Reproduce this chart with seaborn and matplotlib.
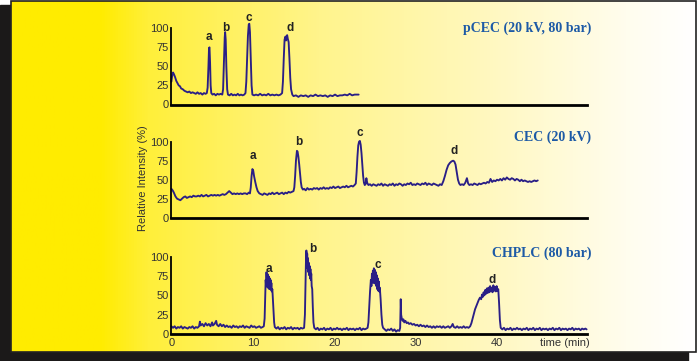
"""
Chromatogram comparison: pCEC vs CEC vs CHPLC
three stacked traces on a yellow->white panel with drop shadow
"""

import numpy as np
import matplotlib
matplotlib.use('Agg')
import matplotlib.pyplot as plt
from matplotlib.patches import Rectangle
from matplotlib.colors import LinearSegmentedColormap
import seaborn as sns

sns.set_style('white')
plt.rcParams['font.family'] = ['Liberation Sans', 'DejaVu Sans']

# ============================================================================
# DATA (time in min, relative intensity in %)
# ============================================================================
pcec = [
    (0.0, 30), (0.1, 38), (0.2, 42), (0.3, 40), (0.45, 36), (0.6, 31), (0.75, 28),
    (0.9, 25), (1.05, 24), (1.2, 21), (1.4, 20), (1.6, 18), (1.8, 17), (2.0, 16),
    (2.2, 17), (2.4, 15), (2.6, 16), (2.8, 15), (3.0, 14), (3.2, 16), (3.4, 14),
    (3.6, 15), (3.8, 13), (4.0, 15), (4.2, 14), (4.35, 15), (4.45, 22), (4.55, 50),
    (4.62, 74), (4.68, 75), (4.75, 55), (4.82, 25), (4.9, 15), (5.05, 13), (5.25, 14),
    (5.45, 12), (5.65, 14), (5.85, 13), (6.05, 14), (6.25, 13), (6.35, 20), (6.45, 55),
    (6.55, 88), (6.6, 95), (6.67, 85), (6.75, 50), (6.85, 20), (6.95, 13), (7.15, 12),
    (7.35, 14), (7.55, 12), (7.75, 13), (7.95, 12), (8.15, 14), (8.35, 12), (8.55, 13),
    (8.75, 12), (8.95, 13), (9.1, 15), (9.2, 30), (9.3, 60), (9.4, 90), (9.5, 105),
    (9.57, 106), (9.65, 95), (9.75, 60), (9.85, 25), (9.95, 13), (10.15, 12), (10.4, 13),
    (10.65, 12), (10.9, 14), (11.15, 12), (11.4, 13), (11.65, 12), (11.9, 14), (12.15, 12),
    (12.4, 13), (12.65, 12), (12.9, 13), (13.15, 12), (13.4, 13), (13.6, 15), (13.7, 30),
    (13.8, 60), (13.9, 85), (14.0, 89), (14.08, 84), (14.15, 90), (14.22, 91), (14.3, 86),
    (14.4, 82), (14.5, 60), (14.6, 35), (14.7, 20), (14.85, 13), (15.0, 11), (15.3, 12),
    (15.6, 10), (15.9, 12), (16.2, 11), (16.5, 12), (16.8, 10), (17.1, 12), (17.4, 11),
    (17.7, 13), (18.0, 11), (18.3, 12), (18.6, 11), (18.9, 12), (19.2, 10), (19.5, 12),
    (19.8, 11), (20.1, 13), (20.4, 11), (20.7, 12), (21.0, 12), (21.3, 13), (21.6, 12),
    (21.9, 14), (22.2, 12), (22.5, 13), (22.8, 13), (23.0, 13),
]

cec = [
    (0.0, 38), (0.15, 36), (0.3, 33), (0.5, 28), (0.7, 25), (0.9, 24), (1.1, 23),
    (1.3, 25), (1.5, 27), (1.7, 28), (1.9, 26), (2.1, 27), (2.3, 28), (2.5, 27),
    (2.7, 29), (2.9, 28), (3.1, 28), (3.3, 29), (3.5, 28), (3.7, 30), (3.9, 28),
    (4.1, 29), (4.3, 30), (4.5, 28), (4.7, 29), (4.9, 30), (5.1, 29), (5.3, 30),
    (5.5, 29), (5.7, 30), (5.9, 29), (6.1, 30), (6.3, 31), (6.5, 30), (6.7, 31),
    (6.9, 33), (7.1, 35), (7.3, 33), (7.5, 31), (7.7, 32), (7.9, 31), (8.1, 32),
    (8.3, 31), (8.5, 32), (8.7, 31), (8.9, 32), (9.1, 32), (9.3, 31), (9.5, 33),
    (9.65, 32), (9.75, 40), (9.85, 55), (9.95, 64), (10.05, 62), (10.15, 55), (10.3, 47),
    (10.45, 40), (10.6, 35), (10.8, 32), (11.0, 31), (11.2, 30), (11.4, 32), (11.6, 31),
    (11.8, 30), (12.0, 32), (12.2, 31), (12.4, 33), (12.6, 31), (12.8, 32), (13.0, 33),
    (13.2, 31), (13.4, 32), (13.6, 33), (13.8, 31), (14.0, 33), (14.2, 32), (14.4, 34),
    (14.6, 33), (14.8, 34), (15.0, 35), (15.1, 40), (15.2, 55), (15.3, 75), (15.42, 88),
    (15.5, 87), (15.6, 80), (15.7, 70), (15.8, 58), (15.9, 47), (16.0, 40), (16.15, 37),
    (16.3, 38), (16.5, 36), (16.7, 39), (16.9, 37), (17.1, 38), (17.3, 37), (17.5, 39),
    (17.7, 38), (17.9, 39), (18.1, 37), (18.3, 39), (18.5, 38), (18.7, 40), (18.9, 38),
    (19.1, 39), (19.3, 38), (19.5, 40), (19.7, 39), (19.9, 41), (20.1, 39), (20.3, 40),
    (20.5, 41), (20.7, 39), (20.9, 40), (21.1, 41), (21.3, 40), (21.5, 42), (21.7, 40),
    (21.9, 41), (22.1, 42), (22.3, 41), (22.5, 43), (22.65, 45), (22.75, 60), (22.85, 80),
    (22.95, 95), (23.05, 100), (23.15, 101), (23.25, 96), (23.35, 85), (23.45, 70),
    (23.55, 55), (23.65, 46), (23.75, 43), (23.85, 44), (23.95, 52), (24.05, 46),
    (24.2, 43), (24.4, 44), (24.6, 42), (24.8, 44), (25.0, 43), (25.2, 42), (25.4, 44),
    (25.6, 43), (25.8, 45), (26.0, 42), (26.2, 44), (26.4, 43), (26.6, 42), (26.8, 44),
    (27.0, 43), (27.2, 45), (27.4, 42), (27.6, 44), (27.8, 43), (28.0, 45), (28.2, 44),
    (28.4, 42), (28.6, 44), (28.8, 43), (29.0, 45), (29.2, 44), (29.4, 46), (29.6, 43),
    (29.8, 44), (30.0, 43), (30.2, 45), (30.4, 44), (30.6, 43), (30.8, 45), (31.0, 44),
    (31.2, 46), (31.4, 43), (31.6, 45), (31.8, 44), (32.0, 43), (32.2, 45), (32.4, 44),
    (32.6, 43), (32.8, 42), (33.0, 44), (33.2, 43), (33.4, 48), (33.6, 55), (33.8, 63),
    (34.0, 69), (34.2, 72), (34.4, 74), (34.6, 75), (34.75, 74), (34.9, 70), (35.05, 60),
    (35.2, 50), (35.35, 45), (35.5, 43), (35.7, 44), (35.9, 43), (36.1, 46), (36.3, 52),
    (36.45, 45), (36.6, 43), (36.8, 44), (37.0, 43), (37.2, 45), (37.4, 44), (37.6, 43),
    (37.8, 45), (38.0, 44), (38.2, 45), (38.4, 46), (38.6, 45), (38.8, 47), (39.0, 46),
    (39.2, 51), (39.4, 47), (39.6, 49), (39.8, 48), (40.0, 50), (40.2, 49), (40.4, 51),
    (40.6, 49), (40.8, 52), (41.0, 50), (41.2, 53), (41.4, 51), (41.6, 50), (41.8, 52),
    (42.0, 51), (42.2, 49), (42.4, 51), (42.6, 50), (42.8, 48), (43.0, 50), (43.2, 48),
    (43.4, 49), (43.6, 48), (43.8, 47), (44.0, 48), (44.2, 47), (44.4, 48), (44.6, 49),
    (44.8, 48), (45.0, 49),
]

chplc = [
    (0.0, 10), (0.2, 8), (0.4, 10), (0.6, 7), (0.8, 9), (1.0, 8), (1.2, 10), (1.4, 7),
    (1.6, 9), (1.8, 8), (2.0, 7), (2.2, 9), (2.4, 8), (2.6, 10), (2.8, 7), (3.0, 9),
    (3.2, 8), (3.4, 10), (3.5, 16), (3.6, 11), (3.8, 13), (4.0, 10), (4.2, 14), (4.4, 11),
    (4.6, 13), (4.8, 10), (5.0, 15), (5.1, 11), (5.3, 13), (5.5, 17), (5.6, 12), (5.8, 10),
    (6.0, 13), (6.2, 10), (6.4, 12), (6.6, 9), (6.8, 11), (7.0, 9), (7.2, 10), (7.4, 8),
    (7.6, 11), (7.8, 9), (8.0, 10), (8.2, 8), (8.4, 10), (8.6, 9), (8.8, 11), (9.0, 8),
    (9.2, 10), (9.4, 9), (9.6, 8), (9.8, 11), (10.0, 9), (10.2, 10), (10.4, 8), (10.6, 9),
    (10.8, 10), (11.0, 8), (11.2, 9), (11.35, 10),
    (11.45, 20), (11.52, 45), (11.58, 70), (11.63, 62), (11.68, 80), (11.73, 66),
    (11.78, 78), (11.83, 60), (11.88, 76), (11.93, 63), (11.98, 74), (12.03, 58),
    (12.08, 72), (12.13, 60), (12.18, 70), (12.23, 57), (12.28, 66), (12.33, 55),
    (12.4, 58), (12.47, 45), (12.54, 30), (12.62, 15), (12.7, 9),
    (12.9, 7), (13.1, 9), (13.3, 6), (13.5, 8), (13.7, 7), (13.9, 9), (14.1, 6), (14.3, 8),
    (14.5, 7), (14.7, 9), (14.9, 6), (15.1, 8), (15.3, 7), (15.5, 8), (15.7, 6), (15.9, 8),
    (16.1, 7), (16.3, 8),
    (16.4, 25), (16.47, 60), (16.53, 95), (16.58, 108), (16.63, 90), (16.68, 104),
    (16.73, 85), (16.78, 98), (16.83, 80), (16.88, 92), (16.93, 76), (16.98, 88),
    (17.03, 72), (17.08, 84), (17.13, 70), (17.18, 78), (17.23, 62), (17.3, 58),
    (17.37, 35), (17.45, 15), (17.55, 8),
    (17.75, 6), (17.95, 8), (18.15, 5), (18.35, 7), (18.55, 6), (18.75, 8), (18.95, 5),
    (19.15, 7), (19.35, 6), (19.55, 8), (19.75, 5), (19.95, 7), (20.15, 6), (20.35, 8),
    (20.55, 6), (20.75, 7), (20.95, 5), (21.15, 7), (21.35, 6), (21.55, 8), (21.75, 5),
    (21.95, 7), (22.15, 6), (22.35, 7), (22.55, 5), (22.75, 7), (22.95, 6), (23.15, 8),
    (23.35, 5), (23.55, 7), (23.75, 6), (23.95, 7), (24.1, 8),
    (24.2, 15), (24.3, 35), (24.4, 55), (24.5, 70), (24.57, 62), (24.63, 78), (24.69, 68),
    (24.75, 82), (24.81, 66), (24.87, 85), (24.93, 70), (24.99, 83), (25.05, 65),
    (25.11, 80), (25.17, 62), (25.23, 76), (25.29, 58), (25.35, 72), (25.41, 56),
    (25.47, 68), (25.53, 55), (25.6, 60), (25.7, 45), (25.8, 25), (25.9, 12), (26.0, 8),
    (26.2, 6), (26.4, 4), (26.6, 6), (26.8, 5), (27.0, 7), (27.2, 4), (27.4, 6), (27.6, 3),
    (27.8, 5), (28.0, 4), (28.1, 8), (28.17, 45), (28.22, 25), (28.3, 20), (28.4, 17),
    (28.5, 19), (28.6, 15), (28.75, 17), (28.9, 14), (29.05, 15), (29.2, 13), (29.4, 14),
    (29.6, 12), (29.8, 13), (30.0, 11), (30.2, 12), (30.4, 10), (30.6, 12), (30.8, 10),
    (31.0, 11), (31.2, 9), (31.4, 11), (31.6, 9), (31.8, 10), (32.0, 8), (32.2, 10),
    (32.4, 8), (32.6, 10), (32.8, 9), (33.0, 10), (33.2, 8), (33.4, 10), (33.6, 8),
    (33.8, 9), (34.0, 10), (34.2, 8), (34.4, 10), (34.55, 13), (34.7, 9), (34.9, 8),
    (35.1, 10), (35.3, 8), (35.5, 9), (35.7, 8), (35.9, 10), (36.1, 8), (36.3, 9),
    (36.5, 8), (36.7, 10),
    (36.85, 14), (37.0, 20), (37.15, 26), (37.3, 32), (37.45, 36), (37.6, 40), (37.75, 44),
    (37.9, 47), (38.05, 45), (38.15, 51), (38.25, 48), (38.35, 54), (38.45, 50),
    (38.55, 57), (38.65, 52), (38.75, 59), (38.85, 53), (38.95, 60), (39.05, 54),
    (39.15, 62), (39.25, 55), (39.35, 60), (39.45, 54), (39.55, 63), (39.65, 56),
    (39.75, 61), (39.85, 55), (39.95, 62), (40.05, 56), (40.15, 58), (40.25, 40),
    (40.35, 18), (40.45, 8),
    (40.65, 6), (40.85, 8), (41.05, 5), (41.25, 7), (41.45, 6), (41.65, 8), (41.85, 5),
    (42.05, 7), (42.25, 6), (42.45, 8), (42.65, 6), (42.85, 7), (43.05, 5), (43.25, 7),
    (43.45, 6), (43.65, 8), (43.85, 5), (44.05, 7), (44.25, 6), (44.45, 8), (44.65, 5),
    (44.85, 7), (45.05, 6), (45.25, 8), (45.45, 5), (45.65, 7), (45.85, 6), (46.05, 7),
    (46.25, 5), (46.45, 7), (46.65, 6), (46.85, 8), (47.05, 5), (47.25, 7), (47.45, 6),
    (47.65, 8), (47.85, 5), (48.05, 7), (48.25, 6), (48.45, 7), (48.65, 5), (48.85, 7),
    (49.05, 6), (49.25, 8), (49.45, 5), (49.65, 7), (49.85, 6), (50.05, 7), (50.25, 5),
    (50.45, 7), (50.65, 6), (50.85, 7), (51.0, 6),
]

panel_titles = ['pCEC (20 kV, 80 bar)', 'CEC (20 kV)', 'CHPLC (80 bar)']
peak_names = ['a', 'b', 'c', 'd']
pcec_peak_t = [4.66, 6.67, 9.57, 14.57]
pcec_peak_h = [89, 100, 113, 100]
cec_peak_t = [9.98, 15.7, 23.17, 34.7]
cec_peak_h = [81, 99, 112, 88]
chplc_peak_t = [12.0, 17.4, 25.3, 39.4]
chplc_peak_h = [84, 110, 89, 70]

y_ticks = [0, 25, 50, 75, 100]
x_major = [0, 10, 20, 30, 40]
x_minor = [5, 15, 25, 35, 45, 50]

# ============================================================================
# Figure + background (shadow, gradient box)
# ============================================================================
W, H = 699, 361
fig = plt.figure(figsize=(W / 100, H / 100), dpi=100)
fig.patch.set_facecolor('white')

bg = fig.add_axes([0, 0, 1, 1], zorder=0)
bg.add_patch(Rectangle((0, 5), 688, 356, color='#1b1919', zorder=1))
grad_cmap = LinearSegmentedColormap.from_list('yw', [
    (0.0, '#FFEC00'), (0.13, '#FFEC00'), (0.2, '#FFEF3A'), (0.45, '#FFF48C'),
    (0.7, '#FFF8C0'), (0.9, '#FFFDEE'), (1.0, '#FFFFFF')])
bg.imshow(np.linspace(0, 1, 512)[None, :], cmap=grad_cmap, aspect='auto',
          extent=(11, 696, 352, 1), zorder=2)
bg.add_patch(Rectangle((11, 1), 685, 351, fill=False, ec='#222222', lw=1.2, zorder=3))
bg.set_xlim(0, W)
bg.set_ylim(H, 0)
bg.axis('off')


def px_box(left, top, right, bottom):
    return [left / W, 1 - bottom / H, (right - left) / W, (bottom - top) / H]


line_color = '#2a1f86'
title_color = '#1d5aa6'
boxes = [px_box(171.4, 28.3, 587, 104.5),
         px_box(171.4, 141.7, 587, 217.7),
         px_box(171.4, 256.7, 587, 334)]
traces = [pcec, cec, chplc]
peak_t = [pcec_peak_t, cec_peak_t, chplc_peak_t]
peak_h = [pcec_peak_h, cec_peak_h, chplc_peak_h]
title_y = [28, 137, 253]

for i in range(3):
    ax = fig.add_axes(boxes[i], zorder=2)
    ax.set_facecolor('none')
    t = [p[0] for p in traces[i]]
    v = [p[1] for p in traces[i]]
    sns.lineplot(x=t, y=v, ax=ax, color=line_color, linewidth=1.35,
                 estimator=None, sort=False, legend=False)
    for ln in ax.lines:
        ln.set_clip_on(False)

    ax.set_xlim(0, 51.05)
    ax.set_ylim(0, 100)
    sns.despine(ax=ax)
    ax.spines['left'].set_linewidth(1.3)
    ax.spines['bottom'].set_linewidth(2.0)
    ax.spines['left'].set_color('black')
    ax.spines['bottom'].set_color('black')

    ax.set_yticks(y_ticks)
    ax.set_yticklabels([str(y) for y in y_ticks])
    ax.set_xticks(x_major)
    ax.set_xticks(x_minor, minor=True)
    ax.tick_params(axis='both', which='both', direction='in', length=3,
                   width=0.8, colors='black', labelcolor='#333333', labelsize=8)
    ax.tick_params(axis='y', pad=2)
    ax.tick_params(axis='x', pad=3)
    if i < 2:
        ax.set_xticklabels([])
    else:
        ax.set_xticklabels([str(x) for x in x_major])
    ax.set_xlabel('')
    ax.set_ylabel('')

    # peak letters
    for name, pt, ph in zip(peak_names, peak_t[i], peak_h[i]):
        ax.text(pt, ph, name, ha='center', va='center', fontsize=8.5,
                fontweight='bold', color='#222222', clip_on=False)

    # method title on the right
    fig.text(591 / W, 1 - title_y[i] / H, panel_titles[i], ha='right', va='center',
             fontsize=10, fontweight='bold', color=title_color,
             family=['Liberation Serif', 'DejaVu Serif'])

fig.text(143 / W, 1 - 178 / H, 'Relative Intensity (%)', rotation=90,
         ha='center', va='center', fontsize=8, color='#333333')
fig.text(590 / W, 1 - 343 / H, 'time (min)', ha='right', va='center',
         fontsize=8, color='#333333')

plt.savefig('out.png', dpi=100)
